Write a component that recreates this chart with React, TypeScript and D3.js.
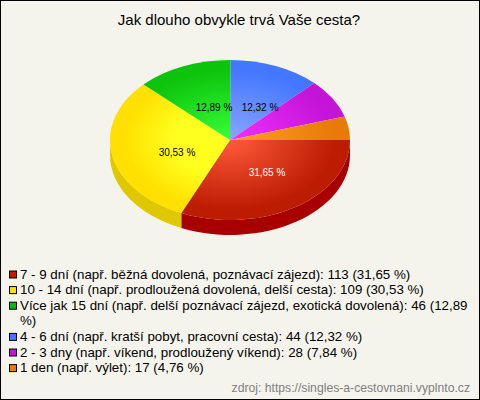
import React from "react";
import * as d3 from "d3";

const title = "Jak dlouho obvykle trvá Vaše cesta?";
const labels = [
  "7 - 9 dní (např. běžná dovolená, poznávací zájezd)",
  "10 - 14 dní (např. prodloužená dovolená, delší cesta)",
  "Více jak 15 dní (např. delší poznávací zájezd, exotická dovolená)",
  "4 - 6 dní (např. kratší pobyt, pracovní cesta)",
  "2 - 3 dny (např. víkend, prodloužený víkend)",
  "1 den (např. výlet)",
];
const values = [113, 109, 46, 44, 28, 17];
const percents = ["31,65", "30,53", "12,89", "12,32", "7,84", "4,76"];
const edgeColors = ["#bc1c00", "#ffe000", "#0cc40c", "#4477ff", "#c414d8", "#e87a08"];
const midColors = ["#ff5a3c", "#ffff1e", "#38ff38", "#8aa6ff", "#f030ff", "#ffa020"];
const plateau = [0, 0.45, 0, 0, 0, 0];
const sideColors = ["#a80000", "#e0c800"];
const legendColors = ["#c01c00", "#ffe000", "#0cb80c", "#4477ff", "#c414d8", "#e87a08"];
const labelFill = ["#fff", "#000", "#000", "#000"];
const labelOffsets = [[37, 32], [-53, 12], [-16, -33], [30, -33]];

const W = 480, H = 400, cx = 230, cy = 140, rx = 120, ry = 80, depth = 15;

export default function App() {
  const pie = d3.pie<number>().sort(null).startAngle(Math.PI / 2).endAngle(Math.PI / 2 + 2 * Math.PI);
  const arcs = pie(values);
  const arc = d3.arc<any>().innerRadius(0).outerRadius(rx);
  const py = (a: number) => [cx + rx * Math.sin(a), cy - ry * Math.cos(a)];
  const sides = arcs.slice(0, 2).map((d) => {
    const a0 = d.startAngle;
    const a1 = Math.min(d.endAngle, 1.5 * Math.PI);
    const [x0, y0] = py(a0);
    const [x1, y1] = py(a1);
    return `M${x0},${y0}A${rx},${ry} 0 0 1 ${x1},${y1}L${x1},${y1 + depth}A${rx},${ry} 0 0 0 ${x0},${y0 + depth}Z`;
  });
  let lineY = 278.5;
  const step = 15.6;
  const wrapped = labels.map((l, i) => {
    const t = `${l}: ${values[i]} (${percents[i]} %)`;
    return i === 2 ? [t.replace(" %)", ""), "%)"] : [t];
  });
  return (
    <svg width={W} height={H} style={{ position: "absolute", left: 0, top: 0 }} fontFamily="Liberation Sans, Arial, sans-serif">
      <defs>
        {arcs.map((_, i) => (
          <radialGradient key={i} id={`g${i}`} gradientUnits="userSpaceOnUse" cx={0} cy={0} r={rx}>
            <stop offset={plateau[i]} stopColor={midColors[i]} />
            <stop offset="0.88" stopColor={edgeColors[i]} />
          </radialGradient>
        ))}
      </defs>
      <rect x={0.5} y={0.5} width={W - 1} height={H - 1} fill="#f5f4ec" stroke="#000" strokeWidth={1} />
      <text x={239} y={25} textAnchor="middle" fontSize={15} fill="#000">{title}</text>
      {sides.map((d, i) => <path key={i} d={d} fill={sideColors[i]} />)}
      <g transform={`translate(${cx},${cy}) scale(1,${ry / rx})`}>
        {arcs.map((d, i) => <path key={i} d={arc(d) as string} fill={`url(#g${i})`} />)}
      </g>
      {labelOffsets.map(([dx, dy], i) => (
        <text key={i} x={cx + dx} y={cy + dy + 3.5} textAnchor="middle" fontSize={10} fill={labelFill[i]}>{percents[i]} %</text>
      ))}
      {wrapped.map((lines, i) => {
        const y0 = lineY;
        lineY += lines.length * step;
        return (
          <g key={i}>
            <rect x={9.5} y={y0 - 7.5} width={7} height={7} fill={legendColors[i]} stroke="#000" strokeWidth={1} />
            {lines.map((t, j) => <text key={j} x={20} y={y0 + j * step} fontSize={13.33} fill="#000">{t}</text>)}
          </g>
        );
      })}
      <text x={470} y={392} textAnchor="end" fontSize={12.2} fill="#808080">zdroj: https://singles-a-cestovnani.vyplnto.cz</text>
    </svg>
  );
}
